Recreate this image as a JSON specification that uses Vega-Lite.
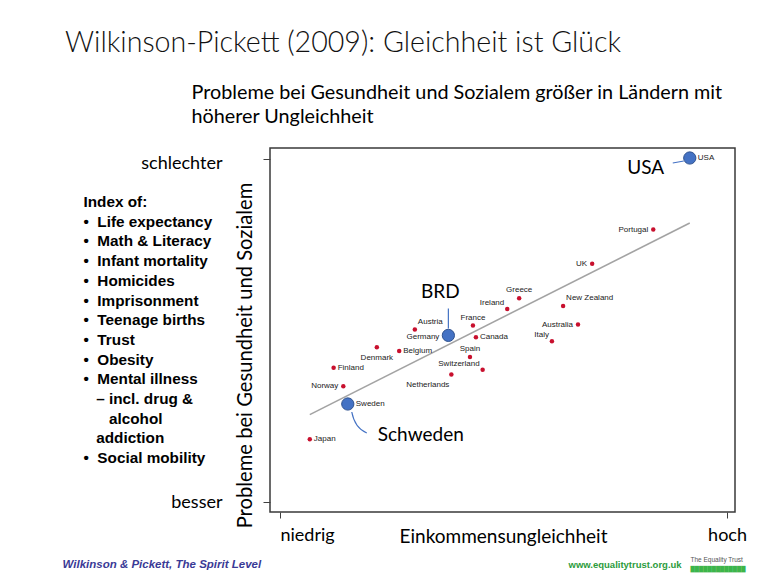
{
  "$schema": "https://vega.github.io/schema/vega-lite/v6.json",
  "width": 465,
  "height": 364,
  "autosize": {"type": "none"},
  "padding": {"left": 270, "top": 148, "right": 32, "bottom": 69},
  "background": "white",
  "config": {"view": {"stroke": "#3a3a3a", "strokeWidth": 1.5}},
  "title": {
    "text": "Wilkinson-Pickett (2009): Gleichheit ist Glück",
    "anchor": "start",
    "frame": "group",
    "dx": -205,
    "offset": 24,
    "font": "Lato",
    "fontSize": 28.6,
    "fontWeight": 300,
    "color": "#111111"
  },
  "data": {
    "values": [
      {"country": "USA", "ineq": 8.50, "index": 2.01},
      {"country": "Portugal", "ineq": 8.01, "index": 1.28},
      {"country": "UK", "ineq": 7.19, "index": 0.93},
      {"country": "Greece", "ineq": 6.21, "index": 0.58},
      {"country": "Ireland", "ineq": 6.05, "index": 0.47},
      {"country": "New Zealand", "ineq": 6.80, "index": 0.50},
      {"country": "Australia", "ineq": 7.00, "index": 0.31},
      {"country": "France", "ineq": 5.59, "index": 0.30},
      {"country": "Austria", "ineq": 4.81, "index": 0.26},
      {"country": "Germany", "ineq": 5.26, "index": 0.20},
      {"country": "Canada", "ineq": 5.63, "index": 0.18},
      {"country": "Italy", "ineq": 6.65, "index": 0.14},
      {"country": "Denmark", "ineq": 4.30, "index": 0.08},
      {"country": "Belgium", "ineq": 4.60, "index": 0.04},
      {"country": "Spain", "ineq": 5.55, "index": -0.02},
      {"country": "Finland", "ineq": 3.72, "index": -0.13},
      {"country": "Switzerland", "ineq": 5.72, "index": -0.15},
      {"country": "Netherlands", "ineq": 5.30, "index": -0.20},
      {"country": "Norway", "ineq": 3.85, "index": -0.32},
      {"country": "Sweden", "ineq": 3.91, "index": -0.50},
      {"country": "Japan", "ineq": 3.40, "index": -0.86}
    ]
  },
  "encoding": {
    "x": {"field": "ineq", "type": "quantitative", "scale": {"domain": [2.866, 9.107], "nice": false, "zero": false}, "axis": null},
    "y": {"field": "index", "type": "quantitative", "scale": {"domain": [-1.602, 2.112], "nice": false, "zero": false}, "axis": null}
  },
  "layer": [
    {
      "transform": [{"regression": "index", "on": "ineq"}],
      "mark": {"type": "line", "color": "#a3a3a3", "strokeWidth": 1.6},
      "encoding": {
        "x": {"field": "ineq", "type": "quantitative", "scale": {"domain": [2.866, 9.107], "nice": false, "zero": false},
          "axis": {"orient": "top", "offset": 0, "domain": false, "ticks": false, "labels": false, "grid": false,
            "title": ["Probleme bei Gesundheit und Sozialem größer in Ländern mit", "höherer Ungleichheit"],
            "titleFont": "Lato", "titleFontSize": 19.8, "titleFontWeight": "normal", "titleColor": "#000000",
            "titleX": -79, "titleY": -50, "titleAlign": "left", "titleBaseline": "alphabetic", "titleLineHeight": 24}},
        "y": {"field": "index", "type": "quantitative", "scale": {"domain": [-1.602, 2.112], "nice": false, "zero": false},
          "axis": {"orient": "left", "offset": 0, "domain": false, "ticks": false, "labels": false, "grid": false,
            "title": ["Index of:", "•\u00a0\u00a0Life expectancy", "•\u00a0\u00a0Math & Literacy", "•\u00a0\u00a0Infant mortality", "•\u00a0\u00a0Homicides", "•\u00a0\u00a0Imprisonment", "•\u00a0\u00a0Teenage births", "•\u00a0\u00a0Trust", "•\u00a0\u00a0Obesity", "•\u00a0\u00a0Mental illness", "\u200b\u00a0\u00a0\u00a0– incl. drug &", "\u200b\u00a0\u00a0\u00a0\u00a0\u00a0\u00a0alcohol", "\u200b\u00a0\u00a0\u00a0addiction", "•\u00a0\u00a0Social mobility"],
            "titleFont": "Liberation Sans", "titleFontSize": 15.3, "titleFontWeight": "bold", "titleColor": "#000000",
            "titleAngle": 0, "titleX": -187, "titleY": 58.5, "titleAlign": "left", "titleBaseline": "alphabetic", "titleLineHeight": 19.7}}
      }
    },
    {
      "mark": {"type": "circle", "color": "#C8102E", "size": 20, "opacity": 1},
      "encoding": {
        "x": {"field": "ineq", "type": "quantitative", "scale": {"domain": [2.866, 9.107], "nice": false, "zero": false},
          "axis": {"orient": "bottom", "offset": 0, "values": [3, 9], "domain": false, "grid": false,
            "tickSize": 6, "tickColor": "#404040", "tickWidth": 1,
            "labelExpr": "datum.value < 5 ? 'niedrig' : 'hoch'",
            "labelFont": "Lato", "labelFontSize": 18, "labelColor": "#000000", "labelPadding": 8,
            "labelAlign": {"condition": {"test": "datum.value < 5", "value": "left"}, "value": "center"},
            "labelFlush": false, "labelOverlap": false,
            "title": "Einkommensungleichheit", "titleFont": "Lato", "titleFontSize": 19, "titleFontWeight": "normal", "titleColor": "#000000",
            "titleX": 233, "titleY": 30, "titleAlign": "center", "titleBaseline": "alphabetic"}},
        "y": {"field": "index", "type": "quantitative", "scale": {"domain": [-1.602, 2.112], "nice": false, "zero": false},
          "axis": {"orient": "left", "offset": 0, "values": [-1.5, 2], "domain": false, "grid": false,
            "tickSize": 7, "tickColor": "#404040", "tickWidth": 1,
            "labelExpr": "datum.value > 0 ? 'schlechter' : 'besser'",
            "labelFont": "Lato", "labelFontSize": 18, "labelColor": "#000000", "labelPadding": 41,
            "labelBaseline": "middle", "labelAlign": "right",
            "labelOffset": {"condition": {"test": "datum.value > 0", "value": 5}, "value": 0},
            "labelFlush": false, "labelOverlap": false,
            "title": "Probleme bei Gesundheit und Sozialem", "titleFont": "Lato", "titleFontSize": 20.2, "titleFontWeight": "normal", "titleColor": "#000000",
            "titleAngle": 270, "titleX": -25, "titleY": 207, "titleAlign": "center", "titleBaseline": "middle"}}
      }
    },
    {
      "transform": [{"filter": {"field": "country", "oneOf": ["USA", "Germany", "Sweden"]}}],
      "mark": {"type": "point", "shape": "circle", "filled": true, "fill": "#4472C4", "stroke": "#2F528F", "strokeWidth": 1, "size": 150, "opacity": 1},
      "encoding": {
        "x": {"field": "ineq", "type": "quantitative", "scale": {"domain": [2.866, 9.107], "nice": false, "zero": false},
          "axis": {"orient": "bottom", "offset": 0, "domain": false, "ticks": false, "labels": false, "grid": false,
            "title": "Wilkinson & Pickett, The Spirit Level", "titleFont": "Liberation Sans", "titleFontSize": 11.5, "titleFontWeight": "bold", "titleFontStyle": "italic", "titleColor": "#3a3a96",
            "titleX": -208, "titleY": 55, "titleAlign": "left", "titleBaseline": "alphabetic"}}
      }
    },
    {
      "transform": [{"filter": {"field": "country", "oneOf": ["USA", "Germany", "Sweden"]}}],
      "mark": {"type": "point", "filled": false, "color": "#4472C4", "strokeWidth": 1.2, "size": 3600, "opacity": 1},
      "encoding": {
        "x": {"field": "ineq", "type": "quantitative", "scale": {"domain": [2.866, 9.107], "nice": false, "zero": false},
          "axis": {"orient": "bottom", "offset": 0, "domain": false, "ticks": false, "labels": false, "grid": false,
            "title": "www.equalitytrust.org.uk", "titleFont": "Liberation Sans", "titleFontSize": 9.5, "titleFontWeight": "bold", "titleColor": "#2c9b3c",
            "titleX": 298, "titleY": 55, "titleAlign": "left", "titleBaseline": "alphabetic"}},
        "shape": {"field": "country", "type": "nominal",
          "scale": {"domain": ["USA", "Germany", "Sweden"], "range": ["M-0.567,0.167L-0.2,0.1", "M0,-0.9L0,-0.233", "M0.133,0.267Q0.233,0.8 0.633,0.967"]},
          "legend": null}
      }
    },
    {
      "transform": [{"filter": {"field": "country", "equal": "USA"}}],
      "mark": {"type": "text", "text": "USA", "font": "Lato", "fontSize": 19, "color": "#000000", "align": "center", "baseline": "middle", "dx": -44, "dy": 10},
      "encoding": {
        "x": {"field": "ineq", "type": "quantitative", "scale": {"domain": [2.866, 9.107], "nice": false, "zero": false},
          "axis": {"orient": "bottom", "offset": 0, "domain": false, "ticks": false, "labels": false, "grid": false,
            "title": "The Equality Trust", "titleFont": "Liberation Sans", "titleFontSize": 6.5, "titleFontWeight": "normal", "titleColor": "#555555",
            "titleX": 420, "titleY": 49, "titleAlign": "left", "titleBaseline": "alphabetic"}}
      }
    },
    {
      "transform": [{"filter": {"field": "country", "equal": "Germany"}}],
      "mark": {"type": "text", "text": "BRD", "font": "Lato", "fontSize": 19, "color": "#000000", "align": "center", "baseline": "middle", "dx": -8, "dy": -43},
      "encoding": {
        "x": {"field": "ineq", "type": "quantitative", "scale": {"domain": [2.866, 9.107], "nice": false, "zero": false},
          "axis": {"orient": "bottom", "offset": 0, "domain": false, "ticks": false, "labels": false, "grid": false,
            "title": "█████████████", "titleFont": "DejaVu Sans", "titleFontSize": 5.5, "titleFontWeight": "normal", "titleColor": "#3db54a",
            "titleX": 420, "titleY": 58, "titleAlign": "left", "titleBaseline": "alphabetic"}}
      }
    },
    {
      "transform": [{"filter": {"field": "country", "equal": "Sweden"}}],
      "mark": {"type": "text", "text": "Schweden", "font": "Lato", "fontSize": 19, "color": "#000000", "align": "center", "baseline": "middle", "dx": 73, "dy": 31}
    },
    {
      "transform": [{"filter": {"field": "country", "oneOf": ["Canada", "Belgium", "Finland", "Japan"]}}],
      "mark": {"type": "text", "font": "Liberation Sans", "fontSize": 8, "color": "#222222", "align": "left", "baseline": "middle", "dx": 4},
      "encoding": {"text": {"field": "country"}}
    },
    {
      "transform": [{"filter": {"field": "country", "oneOf": ["USA", "Sweden"]}}],
      "mark": {"type": "text", "font": "Liberation Sans", "fontSize": 8, "color": "#222222", "align": "left", "baseline": "middle", "dx": 8},
      "encoding": {"text": {"field": "country"}}
    },
    {
      "transform": [{"filter": {"field": "country", "oneOf": ["Portugal", "UK", "Australia", "Norway"]}}],
      "mark": {"type": "text", "font": "Liberation Sans", "fontSize": 8, "color": "#222222", "align": "right", "baseline": "middle", "dx": -5},
      "encoding": {"text": {"field": "country"}}
    },
    {
      "transform": [{"filter": {"field": "country", "equal": "Germany"}}],
      "mark": {"type": "text", "font": "Liberation Sans", "fontSize": 8, "color": "#222222", "align": "right", "baseline": "middle", "dx": -9, "dy": 2},
      "encoding": {"text": {"field": "country"}}
    },
    {
      "transform": [{"filter": {"field": "country", "oneOf": ["Greece", "France", "Spain"]}}],
      "mark": {"type": "text", "font": "Liberation Sans", "fontSize": 8, "color": "#222222", "align": "center", "baseline": "middle", "dy": -8},
      "encoding": {"text": {"field": "country"}}
    },
    {
      "transform": [{"filter": {"field": "country", "oneOf": ["Ireland", "Italy", "Switzerland"]}}],
      "mark": {"type": "text", "font": "Liberation Sans", "fontSize": 8, "color": "#222222", "align": "right", "baseline": "middle", "dx": -3, "dy": -6},
      "encoding": {"text": {"field": "country"}}
    },
    {
      "transform": [{"filter": {"field": "country", "oneOf": ["New Zealand", "Austria"]}}],
      "mark": {"type": "text", "font": "Liberation Sans", "fontSize": 8, "color": "#222222", "align": "left", "baseline": "middle", "dx": 3, "dy": -8},
      "encoding": {"text": {"field": "country"}}
    },
    {
      "transform": [{"filter": {"field": "country", "equal": "Denmark"}}],
      "mark": {"type": "text", "font": "Liberation Sans", "fontSize": 8, "color": "#222222", "align": "center", "baseline": "middle", "dy": 11},
      "encoding": {"text": {"field": "country"}}
    },
    {
      "transform": [{"filter": {"field": "country", "equal": "Netherlands"}}],
      "mark": {"type": "text", "font": "Liberation Sans", "fontSize": 8, "color": "#222222", "align": "right", "baseline": "middle", "dx": -2, "dy": 10},
      "encoding": {"text": {"field": "country"}}
    }
  ],
  "resolve": {"axis": {"x": "independent", "y": "independent"}}
}
